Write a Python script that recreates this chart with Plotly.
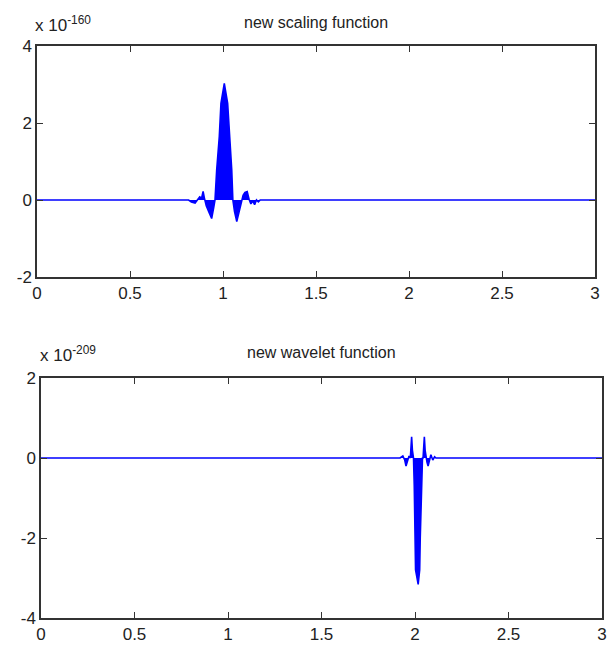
import plotly.graph_objects as go

W, H = 615, 651

# ---- data (values in units of 10^exponent) ----
scaling_exp = -160
scaling_x = [0.0, 0.815, 0.83, 0.85, 0.865, 0.875, 0.885, 0.893, 0.90, 0.91, 0.925,
             0.939, 0.95, 0.957, 0.966, 0.980, 0.989, 1.007, 1.025, 1.038, 1.047,
             1.053, 1.062, 1.074, 1.088, 1.098, 1.108, 1.118, 1.13, 1.14, 1.15,
             1.16, 1.17, 1.18, 1.19, 1.20, 3.0]
scaling_y = [0.0, 0.0, -0.05, -0.08, 0.02, 0.08, 0.05, 0.22, 0.05, -0.15, -0.32,
             -0.48, -0.2, 0.0, 0.78, 1.64, 2.51, 3.03, 2.51, 1.64, 0.78,
             0.0, -0.3, -0.56, -0.3, -0.05, 0.12, 0.2, 0.22, 0.02, -0.1,
             -0.03, -0.12, 0.0, -0.05, 0.0, 0.0]

wavelet_exp = -209
wavelet_x = [0.0, 1.92, 1.935, 1.945, 1.952, 1.96, 1.968, 1.975, 1.979, 1.982,
             1.986, 1.99, 1.992, 1.996, 1.999, 2.003, 2.017, 2.025, 2.028, 2.034,
             2.040, 2.043, 2.046, 2.05, 2.054, 2.058, 2.064, 2.07, 2.076, 2.085,
             2.095, 2.105, 2.112, 3.0]
wavelet_y = [0.0, 0.0, 0.05, -0.05, -0.2, -0.1, 0.05, 0.0, 0.3, 0.53,
             0.2, 0.0, 0.0, -0.7, -2.0, -2.8, -3.16, -2.8, -2.0, -0.7,
             0.0, 0.0, 0.2, 0.53, 0.2, 0.0, -0.1, -0.2, -0.05, 0.08,
             -0.05, 0.03, 0.0, 0.0]

x_ticks = [0, 0.5, 1, 1.5, 2, 2.5, 3]
x_ticktext = ["0", "0.5", "1", "1.5", "2", "2.5", "3"]
top_yticks = [-2, 0, 2, 4]
top_yticktext = ["-2", "0", "2", "4"]
bot_yticks = [-4, -2, 0, 2]
bot_yticktext = ["-4", "-2", "0", "2"]

titles = ["new scaling function", "new wavelet function"]

BLUE = "#0000ff"
AX = "#333333"
TXT = "#222222"
FONT = "Liberation Sans, Arial, sans-serif"

fig = go.Figure()
fig.add_trace(go.Scatter(x=scaling_x, y=scaling_y, mode="lines",
                         line=dict(color=BLUE, width=1.6),
                         fill="tozeroy", fillcolor=BLUE,
                         xaxis="x", yaxis="y", showlegend=False, hoverinfo="skip"))
fig.add_trace(go.Scatter(x=wavelet_x, y=wavelet_y, mode="lines",
                         line=dict(color=BLUE, width=1.6),
                         fill="tozeroy", fillcolor=BLUE,
                         xaxis="x2", yaxis="y2", showlegend=False, hoverinfo="skip"))

def xax(domain, anchor):
    return dict(domain=domain, anchor=anchor, range=[0, 3], tickvals=x_ticks,
                ticktext=x_ticktext, ticks="inside", ticklen=6, tickwidth=1.3,
                tickcolor=AX, showline=True, linecolor=AX, linewidth=1.5,
                mirror="ticks", showgrid=False, zeroline=False, automargin=False,
                tickfont=dict(family=FONT, size=17, color=TXT))

def yax(domain, anchor, rng, ticks, text):
    return dict(domain=domain, anchor=anchor, range=rng, tickvals=ticks,
                ticktext=text, ticks="inside", ticklen=6, tickwidth=1.3,
                tickcolor=AX, showline=True, linecolor=AX, linewidth=1.5,
                mirror="ticks", showgrid=False, zeroline=False, automargin=False,
                tickfont=dict(family=FONT, size=17, color=TXT))

top_x = [37 / W, 595 / W]
top_y = [1 - 277 / H, 1 - 46 / H]
bot_x = [41 / W, 602 / W]
bot_y = [1 - 618 / H, 1 - 378 / H]

fig.update_layout(
    width=W, height=H, margin=dict(l=0, r=0, t=0, b=0, autoexpand=False),
    paper_bgcolor="white", plot_bgcolor="white",
    xaxis=xax(top_x, "y"), yaxis=yax(top_y, "x", [-2, 4], top_yticks, top_yticktext),
    xaxis2=xax(bot_x, "y2"), yaxis2=yax(bot_y, "x2", [-4, 2], bot_yticks, bot_yticktext),
    annotations=[
        dict(text=titles[0], x=316 / W, y=1 - 22 / H, xref="paper", yref="paper",
             xanchor="center", yanchor="middle", showarrow=False,
             font=dict(family=FONT, size=16, color=TXT)),
        dict(text=titles[1], x=321 / W, y=1 - 352 / H, xref="paper", yref="paper",
             xanchor="center", yanchor="middle", showarrow=False,
             font=dict(family=FONT, size=16, color=TXT)),
        dict(text="x 10<sup>%d</sup>" % scaling_exp, x=33 / W, y=1 - 24 / H,
             xref="paper", yref="paper", xanchor="left", yanchor="middle",
             showarrow=False, font=dict(family=FONT, size=17, color=TXT)),
        dict(text="x 10<sup>%d</sup>" % wavelet_exp, x=38 / W, y=1 - 354 / H,
             xref="paper", yref="paper", xanchor="left", yanchor="middle",
             showarrow=False, font=dict(family=FONT, size=17, color=TXT)),
    ],
)

fig.write_html("out.html", config={"displayModeBar": False},
               post_script="document.body.style.margin='0px';document.body.style.padding='0px';")
